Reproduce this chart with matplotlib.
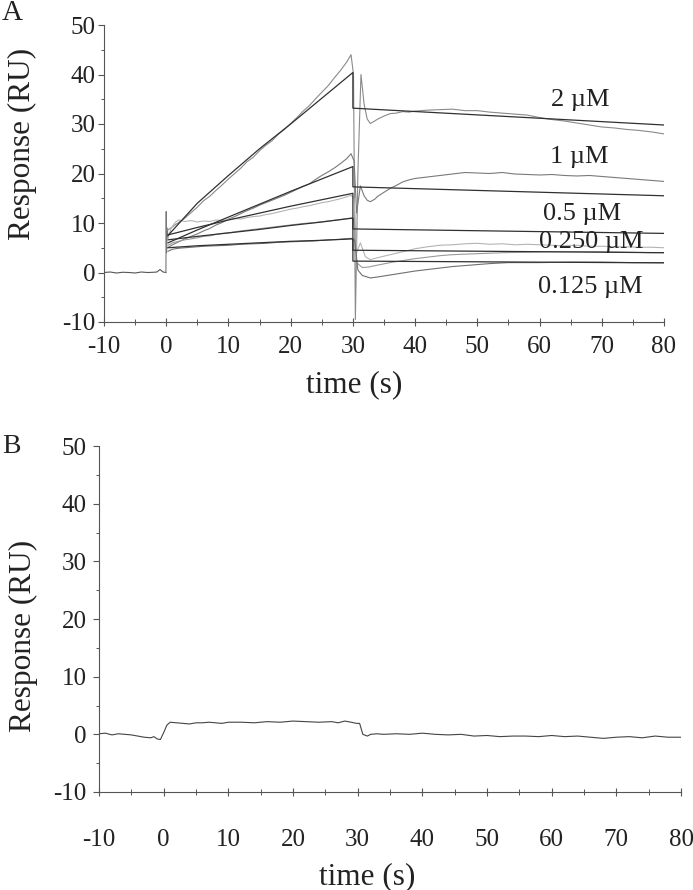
import matplotlib
matplotlib.use("Agg")
import matplotlib.pyplot as plt
from matplotlib.ticker import MultipleLocator

plt.rcParams['font.family'] = ['Liberation Serif', 'DejaVu Serif']
plt.rcParams['axes.unicode_minus'] = False

# ---------------- Panel A data ----------------
conc_labels = ["2 \u00b5M", "1 \u00b5M", "0.5 \u00b5M", "0.250 \u00b5M", "0.125 \u00b5M"]
label_t = [66.6, 66.4, 66.9, 68.3, 68.2]
label_y = [33.6, 22.1, 10.7, 5.0, -4.1]

base_t = [-10, -9, -8, -7, -6, -5, -4, -3, -2, -1.5, -1, -0.5, -0.05]
base_y = [0.0, 0.1, -0.1, 0.05, 0.0, -0.1, 0.1, 0.0, 0.05, 0.1, 0.6, 0.1, 0.0]
spike_t = [-0.05, 0.0, 0.05, 0.15, 0.3]
spike_y = [0.0, 12.3, 4.0, 9.0, 7.0]

d2_t = [0.2, 0.6, 1, 1.5, 2, 2.5, 3, 4, 5, 6, 7, 8, 9, 10, 11, 12, 13, 14, 15, 16, 17, 18, 19, 20,
        21, 22, 23, 24, 25, 26, 27, 28, 29, 29.7,
        30.1, 30.4, 30.8, 31.3, 31.8, 32.3, 32.8, 33.5, 34, 35, 36, 37, 38, 39, 40, 42, 44, 46, 48,
        50, 52, 54, 56, 58, 60, 62, 64, 66, 68, 70, 72, 74, 76, 78, 80]
d2_y = [8.5, 8.9, 9.2, 9.7, 10.1, 10.5, 11.0, 12.1, 13.2, 14.5, 15.4, 16.6, 17.7, 18.9, 20.0, 21.1,
        22.4, 23.3, 24.6, 25.7, 26.6, 27.9, 28.9, 30.1, 31.3, 32.6, 33.7, 35.1, 36.4, 37.7, 39.3,
        40.8, 42.5, 44.0,
        40.0, -9.5, 20.0, 40.0, 34.0, 31.0, 30.1, 30.6, 31.0, 31.6, 32.1, 32.2, 32.5, 32.4, 32.6,
        32.8, 32.9, 33.0, 32.7, 32.7, 32.4, 32.2, 32.0, 31.8, 31.3, 30.9, 30.6, 30.2, 29.8, 29.4,
        29.2, 28.9, 28.7, 28.4, 28.0]

d1_t = [0.2, 1, 2, 3, 4, 5, 6, 7, 8, 9, 10, 11, 12, 13, 14, 15, 16, 17, 18, 19, 20, 21, 22, 23, 24,
        25, 26, 27, 28, 29, 29.7,
        30.2, 30.6, 31.2, 31.8, 32.3, 32.8, 33.5, 34, 35, 36, 37, 38, 39, 40, 42, 44, 46, 48, 50,
        52, 54, 56, 58, 60, 62, 64, 66, 68, 70, 72, 74, 76, 78, 80]
d1_y = [5.0, 5.6, 6.2, 6.8, 7.3, 7.8, 8.4, 8.9, 9.6, 10.1, 10.8, 11.3, 11.9, 12.5, 13.0, 13.6, 14.1,
        14.6, 15.1, 15.6, 16.2, 16.8, 17.4, 17.9, 18.8, 19.6, 20.3, 21.1, 22.0, 23.0, 24.0,
        22.5, 12.0, 17.5, 15.5, 14.6, 14.3, 14.8, 15.4, 16.2, 17.0, 17.6, 18.3, 18.7, 19.0, 19.3,
        19.6, 19.9, 20.2, 20.1, 20.0, 20.2, 19.9, 19.8, 19.7, 19.8, 19.6, 19.5, 19.6, 19.4, 19.2,
        19.0, 18.8, 18.6, 18.4]

d05_t = [0.3, 0.8, 1.5, 2, 3, 4, 5, 6, 7, 8, 9, 10, 11, 12, 13, 14, 15, 16, 17, 18, 19, 20, 21, 22,
         23, 24, 25, 26, 27, 28, 29, 29.7,
         30.2, 30.6, 31.2, 32, 32.8, 34, 36, 38, 40, 42, 44, 46, 48, 50, 52, 54, 56, 58, 60, 62, 64,
         66, 68, 70, 72, 74, 76, 78, 80]
d05_y = [7.0, 9.0, 10.2, 10.6, 10.3, 10.5, 10.2, 10.4, 10.3, 10.6, 10.5, 10.7, 10.9, 10.8, 11.1,
         11.3, 11.4, 11.7, 11.9, 12.2, 12.5, 12.8, 13.0, 13.3, 13.5, 13.8, 14.1, 14.3, 14.6, 14.9,
         15.3, 15.6,
         15.0, 4.0, 6.0, 3.2, 2.6, 3.0, 3.6, 4.2, 4.8, 5.2, 5.5, 5.6, 5.8, 5.9, 5.7, 5.8, 5.6, 5.7,
         5.6, 5.5, 5.4, 5.5, 5.3, 5.3, 5.2, 5.2, 5.1, 5.1, 5.0]

d025_t = [0.3, 1, 2, 3, 4, 5, 6, 7, 8, 9, 10, 12, 14, 16, 18, 20, 22, 24, 26, 28, 29.7,
          30.2, 30.6, 31.5, 32.5, 34, 36, 38, 40, 42, 44, 46, 48, 50, 54, 58, 62, 66, 70, 74, 78, 80]
d025_y = [5.5, 6.0, 6.3, 6.6, 6.8, 7.0, 7.3, 7.4, 7.7, 7.9, 8.0, 8.4, 8.7, 9.0, 9.3, 9.6, 9.9, 10.1,
          10.4, 10.7, 11.0,
          10.6, 2.0, 1.0, 1.1, 1.5, 2.0, 2.4, 2.8, 3.1, 3.4, 3.6, 3.7, 3.8, 4.0, 4.1, 4.2, 4.2, 4.2,
          4.1, 4.0, 4.0]

d0125_t = [0.3, 1, 2, 3, 4, 5, 6, 8, 10, 12, 14, 16, 18, 20, 22, 24, 26, 28, 29.7,
           30.3, 30.8, 31.5, 32.8, 34, 36, 38, 40, 42, 44, 46, 48, 50, 52, 55, 60, 65, 70, 75, 80]
d0125_y = [4.3, 4.7, 4.9, 5.0, 5.1, 5.2, 5.3, 5.4, 5.5, 5.7, 5.8, 5.9, 6.1, 6.2, 6.3, 6.4, 6.6, 6.7,
           6.9,
           6.5, 0.5, -0.6, -1.1, -0.9, -0.5, -0.1, 0.3, 0.6, 0.9, 1.2, 1.4, 1.6, 1.8, 2.0, 2.0, 2.1,
           2.1, 2.0, 2.0]

fit_t = [0.3, 5, 10, 15, 20, 25, 30, 30, 80]
fit2 = [7.5, 14.0, 19.6, 25.0, 30.0, 35.2, 40.4, 33.2, 29.8]
fit1 = [6.0, 8.6, 11.2, 13.8, 16.4, 18.9, 21.4, 17.3, 15.5]
fit05 = [7.6, 9.1, 10.6, 12.0, 13.4, 14.7, 16.0, 8.8, 7.9]
fit025 = [6.6, 7.3, 8.0, 8.7, 9.5, 10.2, 11.0, 4.5, 4.0]
fit0125 = [5.0, 5.4, 5.7, 6.0, 6.3, 6.5, 6.8, 2.3, 1.95]

# ---------------- Panel B data ----------------
b_t = [-10, -9, -8, -7, -6, -5, -4, -3, -2, -1.5, -1, -0.5, 0, 0.5, 1, 2, 3, 4, 5, 6, 7, 8, 9, 10,
       12, 14, 16, 18, 20, 22, 24, 26, 27, 28, 29, 29.8, 30.3, 30.8, 31.5, 32, 33, 34, 36, 38, 40,
       42, 44, 46, 48, 50, 52, 54, 56, 58, 60, 62, 64, 66, 68, 70, 72, 74, 76, 78, 80]
b_y = [0.1, 0.2, -0.1, 0.1, 0.0, -0.1, -0.3, -0.5, -0.6, -0.4, -0.8, -0.9, 0.3, 1.6, 2.1, 2.0, 1.9,
       1.8, 2.0, 2.0, 2.1, 2.0, 1.9, 2.1, 2.1, 2.0, 2.2, 2.1, 2.3, 2.2, 2.1, 2.2, 2.0, 2.3, 2.1, 1.9,
       1.9, 0.0, -0.3, 0.0, 0.1, 0.0, 0.1, 0.0, 0.2, 0.0, -0.1, 0.0, -0.3, -0.2, -0.4, -0.3, -0.3,
       -0.4, -0.2, -0.4, -0.3, -0.5, -0.7, -0.5, -0.4, -0.6, -0.3, -0.5, -0.5]

x_ticks = [-10, 0, 10, 20, 30, 40, 50, 60, 70, 80]
y_ticks = [-10, 0, 10, 20, 30, 40, 50]

fig = plt.figure(figsize=(6.93, 8.90), dpi=100)
axA = fig.add_axes([104 / 693, 1 - 322 / 890, 560 / 693, 297 / 890])
axB = fig.add_axes([99 / 693, 1 - 792 / 890, 582 / 693, 346 / 890])

fitc = '#303030'
axA.plot(base_t, base_y, color='#555555', lw=0.8)
axA.plot(spike_t, spike_y, color='#777777', lw=0.8)
data_sets = [(d2_t, d2_y, '#8a8a8a'), (d1_t, d1_y, '#7a7a7a'), (d05_t, d05_y, '#b4b4b4'),
             (d025_t, d025_y, '#9a9a9a'), (d0125_t, d0125_y, '#707070')]
for t, y, c in data_sets:
    axA.plot(t, y, color=c, lw=0.8)
for f in [fit2, fit1, fit05, fit025, fit0125]:
    axA.plot(fit_t, f, color=fitc, lw=0.9)
for lab, tx, ty in zip(conc_labels, label_t, label_y):
    axA.text(tx, ty, lab, ha='center', va='baseline', fontsize=19, color='#222222')

axB.plot(b_t, b_y, color='#444444', lw=0.8)

for ax, xpad, ypad in [(axA, 7, 2), (axB, 24, 5)]:
    ax.set_xlim(-10, 80)
    ax.set_ylim(-10, 50)
    ax.spines['top'].set_visible(False)
    ax.spines['right'].set_visible(False)
    for s in ['left', 'bottom']:
        ax.spines[s].set_color('#555555')
        ax.spines[s].set_linewidth(0.8)
    ax.set_xticks(x_ticks)
    ax.set_yticks(y_ticks)
    ax.xaxis.set_minor_locator(MultipleLocator(5))
    ax.yaxis.set_minor_locator(MultipleLocator(5))
    ax.tick_params(axis='x', which='major', direction='inout', length=6, width=0.8,
                   color='#555555', labelsize=18, labelcolor='#222222', pad=xpad)
    ax.tick_params(axis='x', which='minor', direction='inout', length=4, width=0.7, color='#555555')
    ax.tick_params(axis='y', which='major', direction='out', length=4, width=0.8,
                   color='#555555', labelsize=18, labelcolor='#222222', pad=ypad)
    ax.tick_params(axis='y', which='minor', direction='out', length=2, width=0.7, color='#555555')
    ax.set_ylabel('Response (RU)', fontsize=22.5, color='#222222')
    ax.set_xlabel('time (s)', fontsize=22.5, color='#222222')

axA.yaxis.set_label_coords(-0.12, 0.60)
axA.xaxis.set_label_coords(0.446, -0.162)
axB.yaxis.set_label_coords(-0.105, 0.45)
axB.xaxis.set_label_coords(0.461, -0.202)

fig.text(2 / 693, 1 - 20 / 890, 'A', fontsize=21, ha='left', va='baseline', color='#222222')
fig.text(2 / 693, 1 - 453 / 890, 'B', fontsize=20, ha='left', va='baseline', color='#222222')

fig.savefig('out.png', dpi=100, facecolor='white')
